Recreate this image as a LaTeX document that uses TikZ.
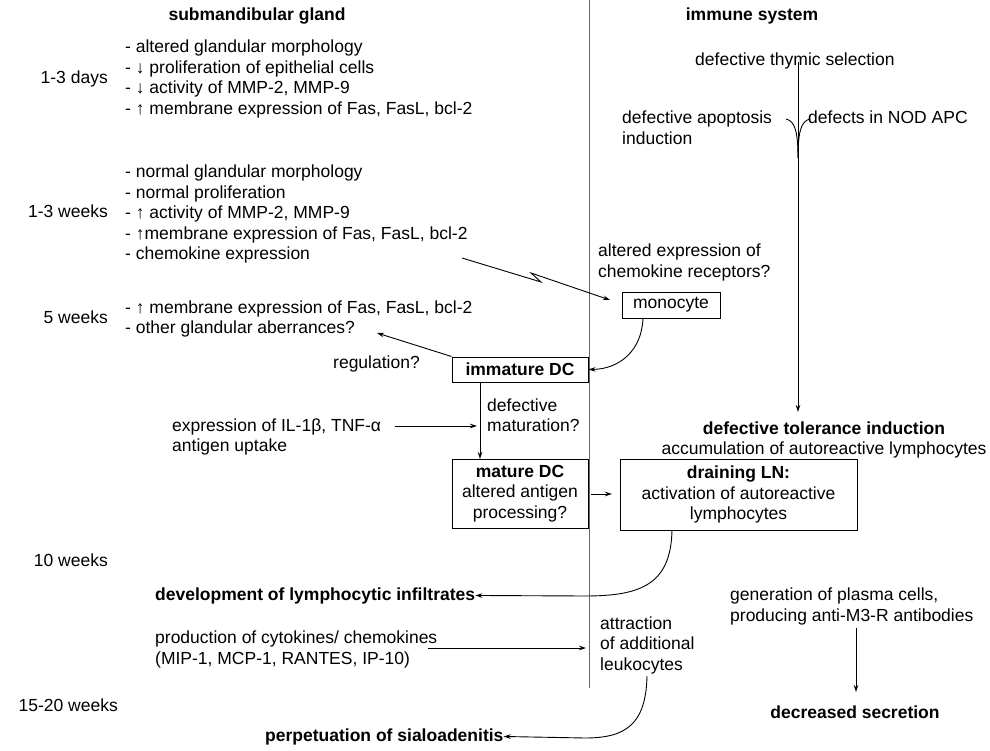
\documentclass[tikz,border=0pt]{standalone}
\usepackage{fontspec}
\setmainfont{Liberation Sans}
\usetikzlibrary{arrows.meta}
\newcommand\fsz{\fontsize{17.5}{20.5}\selectfont}
\begin{document}
\begin{tikzpicture}[x=1pt,y=-1pt,
  txt/.style={font=\fsz, inner sep=0pt, align=left},
  ctxt/.style={font=\fsz, inner sep=0pt, align=center},
  hdr/.style={font=\fsz\bfseries, inner sep=0pt},
  boxn/.style={draw, line width=1pt, font=\fsz, inner sep=0pt, align=center},
  arr/.style={-{Stealth[length=7pt,width=4.5pt]}, line width=0.9pt},
  ln/.style={line width=0.9pt}]
\useasboundingbox (0,0) rectangle (990,751);
% headers
\node[hdr, anchor=base] (hsub) at (257,21) {submandibular gland};
\node[hdr, anchor=base] (himm) at (752,21) {immune system};
% divider
\coordinate (dtop) at (589,0);
\coordinate (dbot) at (589,688);
\draw[line width=1pt, black!60] (dtop) -- (dbot);
% time labels
\node[txt, anchor=base east] (d1) at (108,84) {1-3 days};
\node[txt, anchor=base east] (d2) at (108,218) {1-3 weeks};
\node[txt, anchor=base east] (d3) at (108,323) {5 weeks};
\node[txt, anchor=base east] (d4) at (108,566) {10 weeks};
\node[txt, anchor=base east] (d5) at (118,711) {15-20 weeks};
% left blocks (anchor = baseline of last line)
\node[txt, anchor=base west] (b1) at (125,114.5) {- altered glandular morphology\\- ↓ proliferation of epithelial cells\\- ↓ activity of MMP-2, MMP-9\\- ↑ membrane expression of Fas, FasL, bcl-2};
\node[txt, anchor=base west] (b2) at (125,260) {- normal glandular morphology\\- normal proliferation\\- ↑ activity of MMP-2, MMP-9\\- ↑membrane expression of Fas, FasL, bcl-2\\- chemokine expression};
\node[txt, anchor=base west] (b3) at (125,333.5) {- ↑ membrane expression of Fas, FasL, bcl-2\\- other glandular aberrances?};
\node[txt, anchor=base east] (reg) at (420,368) {regulation?};
\node[txt, anchor=base west] (il) at (172,451.5) {expression of IL-1β, TNF-α\\antigen uptake};
\node[hdr, anchor=base west] (dev) at (155,600) {development of lymphocytic infiltrates};
\node[txt, anchor=base west] (prod) at (155,664) {production of cytokines/ chemokines\\(MIP-1, MCP-1, RANTES, IP-10)};
\node[hdr, anchor=base west] (perp) at (265,741) {perpetuation of sialoadenitis};
% right side texts
\node[txt, anchor=base west] (thy) at (695,66) {defective thymic selection};
\node[txt, anchor=base west] (apo) at (622,144.5) {defective apoptosis\\induction};
\node[txt, anchor=base west] (nod) at (808,124) {defects in NOD APC};
\node[txt, anchor=base west] (chem) at (598,277) {altered expression of\\chemokine receptors?};
\node[ctxt] (tol) at (824,440) {\textbf{defective tolerance induction}\\accumulation of autoreactive lymphocytes};
\node[txt, anchor=base west] (plasma) at (730,621) {generation of plasma cells,\\producing anti-M3-R antibodies};
\node[hdr] (dec) at (855,712) {decreased secretion};
\node[txt, anchor=base west] (attr) at (600,670) {attraction\\of additional\\leukocytes};
\node[txt, anchor=base west] (defmat) at (487,431.5) {defective\\maturation?};
% boxes
\node[boxn, minimum width=98pt, minimum height=26pt] (mono) at (671,305) {monocyte};
\node[boxn, minimum width=136pt, minimum height=25pt, font=\fsz\bfseries] (imdc) at (520,369.5) {immature DC};
\node[boxn, minimum width=136pt, minimum height=69pt] (mdc) at (520,493.5) {\textbf{mature DC}\\altered antigen\\processing?};
\node[boxn, minimum width=237pt, minimum height=71pt] (lnb) at (738.5,494.5) {\textbf{draining LN:}\\activation of autoreactive\\lymphocytes};
% connectors
\coordinate (t1) at (798,62);
\coordinate (t2) at (798,412);
\coordinate (jn) at (798,158);
\draw[arr] (t1) -- (t2);
\coordinate (apoE) at (786,119);
\coordinate (nodW) at (810,119);
\draw[ln] (apoE) .. controls (795,121) and (798,132) .. (jn);
\draw[ln] (nodW) .. controls (801,121) and (798,132) .. (jn);
\coordinate (z0) at (462,258);
\coordinate (z1) at (541,282);
\coordinate (z2) at (531,273);
\coordinate (z3) at (610,300);
\draw[arr] (z0) -- (z1) -- (z2) -- (z3);
\coordinate (m1) at (643,318);
\draw[arr] (m1) .. controls (642,350) and (620,369) .. (imdc.east);
\coordinate (rg) at (377,333);
\draw[arr] (imdc.north west) -- (rg);
\coordinate (i1) at (480,382);
\coordinate (i2) at (480,459);
\draw[arr] (i1) -- (i2);
\coordinate (e1) at (395,426);
\coordinate (e2) at (477,426);
\draw[arr] (e1) -- (e2);
\coordinate (k1) at (591,494);
\coordinate (k2) at (612,494);
\draw[arr] (k1) -- (k2);
\coordinate (l1) at (672,530);
\coordinate (l2) at (585,596);
\draw[arr] (l1) .. controls (671,585) and (640,596) .. (l2) -- (dev.east);
\coordinate (p1) at (428,648);
\coordinate (p2) at (586,648);
\draw[arr] (p1) -- (p2);
\coordinate (a1) at (647,676);
\coordinate (a2) at (585,738);
\draw[arr] (a1) .. controls (646,725) and (625,738) .. (a2) -- (perp.east);
\coordinate (g1) at (856,628);
\coordinate (g2) at (856,692);
\draw[arr] (g1) -- (g2);
\end{tikzpicture}
\end{document}
